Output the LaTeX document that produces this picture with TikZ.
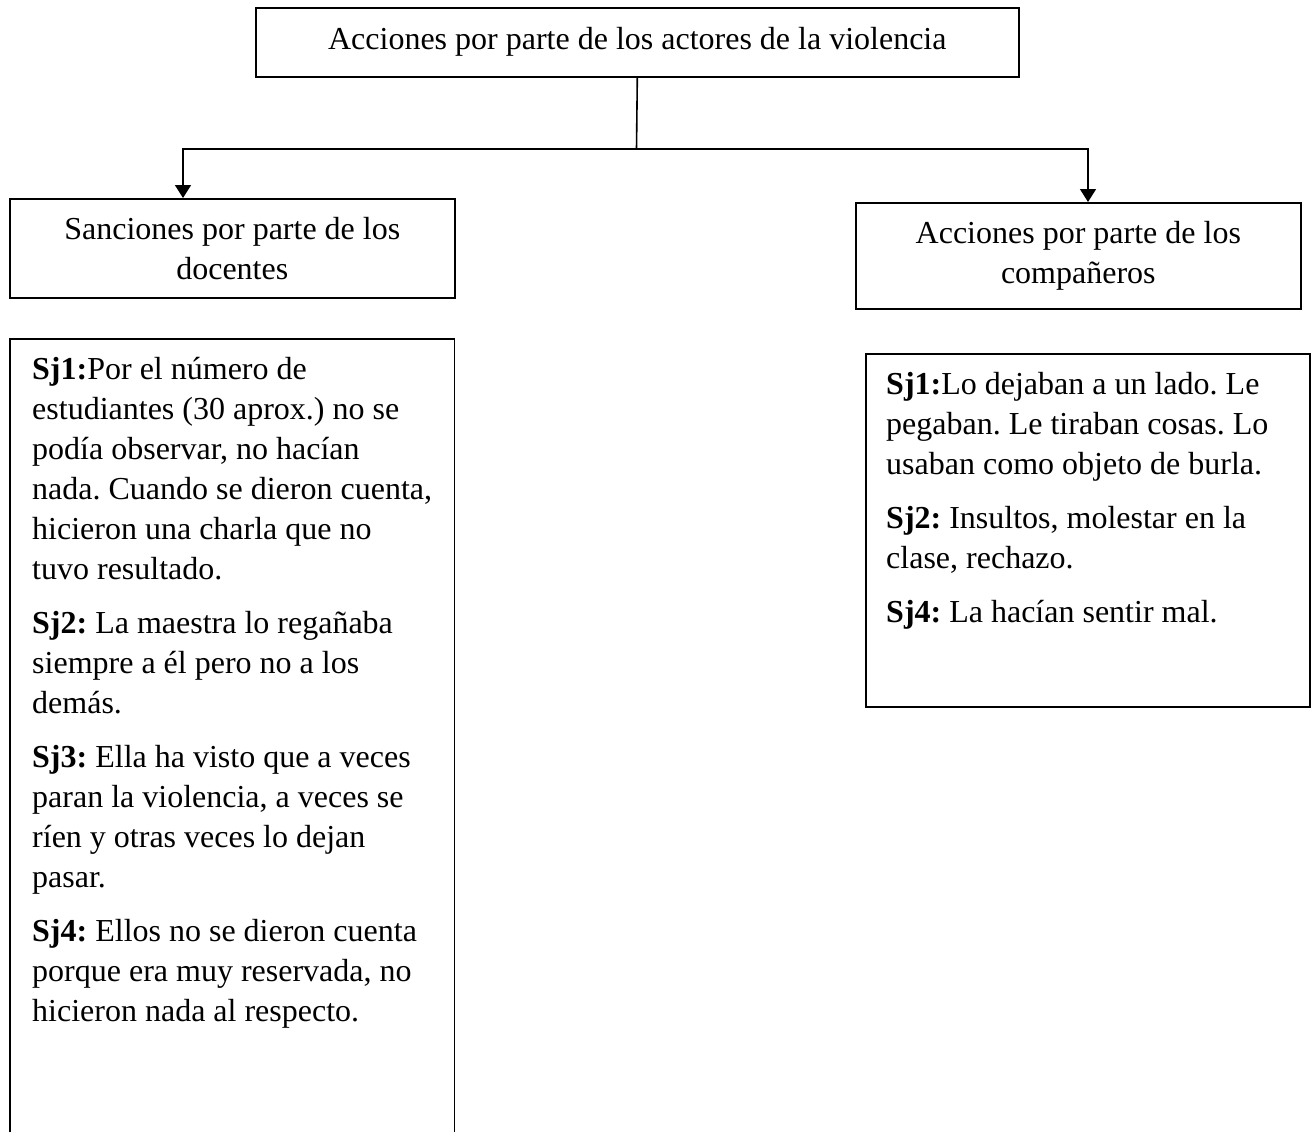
\documentclass[tikz,border=0pt]{standalone}
\usepackage{fontspec}
\setmainfont{Liberation Serif}
\usetikzlibrary{arrows.meta,calc}
\tikzset{
  conn/.style={line width=1.6pt, line cap=rect},
  arr/.style={conn, -{Triangle[width=16pt,length=13pt]}},
  hbox/.style={draw, line width=1.6pt, rectangle, inner sep=0pt, align=center, anchor=north west},
  frame/.style={rectangle, inner sep=0pt, anchor=north west},
  txt/.style={anchor=base west, inner sep=0pt}
}
\newcommand{\bodyfont}{\fontsize{32}{40}\selectfont\frenchspacing}
\newcommand{\parafmt}{\raggedright\frenchspacing\setlength{\parindent}{0pt}\setlength{\parskip}{14pt}}
\begin{document}
\begin{tikzpicture}[x=1pt,y=-1pt, font=\bodyfont]
\useasboundingbox[fill=white] (0,0) rectangle (1316,1132);

% top box
\node (top) [hbox, minimum width=763pt, minimum height=69pt] at (255,7)
  {Acciones por parte de los actores de la violencia};

% header boxes
\node (lh) [hbox, minimum width=445pt, minimum height=99pt] at (9,198)
  {Sanciones por parte de los\\docentes};
\node (rh) [hbox, minimum width=445pt, minimum height=106pt] at (855,202)
  {Acciones por parte de los\\compañeros};

% connectors
\coordinate (j) at (636.5,149);
\coordinate (la) at (183,149);
\coordinate (ra) at (1088,149);
\draw[conn] (top.south) -- (j);
\draw[arr] (j) -- (la) -- (la |- lh.north);
\draw[arr] (j) -- (ra) -- (ra |- rh.north);

% left content box (open at the bottom)
\node (lbox) [frame, minimum width=444pt, minimum height=793pt] at (10,339) {};
\draw[conn, line cap=butt] (lbox.south west) -- (lbox.north west) -- (lbox.north east) -- (lbox.south east);
\node (ltext) [txt] at ($(lbox.north west)+(22,40)$) {\parbox[t]{420pt}{\parafmt
\textbf{Sj1:}Por el número de\\
estudiantes (30 aprox.) no se\\
podía observar, no hacían\\
nada. Cuando se dieron cuenta,\\
hicieron una charla que no\\
tuvo resultado.\par
\textbf{Sj2:} La maestra lo regañaba\\
siempre a él pero no a los\\
demás.\par
\textbf{Sj3:} Ella ha visto que a veces\\
paran la violencia, a veces se\\
ríen y otras veces lo dejan\\
pasar.\par
\textbf{Sj4:} Ellos no se dieron cuenta\\
porque era muy reservada, no\\
hicieron nada al respecto.\par}};

% right content box
\node (rbox) [hbox, minimum width=444pt, minimum height=353pt] at (865,353) {};
\node (rtext) [txt] at ($(rbox.north west)+(21,41)$) {\parbox[t]{420pt}{\parafmt
\textbf{Sj1:}Lo dejaban a un lado. Le\\
pegaban. Le tiraban cosas. Lo\\
usaban como objeto de burla.\par
\textbf{Sj2:} Insultos, molestar en la\\
clase, rechazo.\par
\textbf{Sj4:} La hacían sentir mal.\par}};
\end{tikzpicture}
\end{document}
